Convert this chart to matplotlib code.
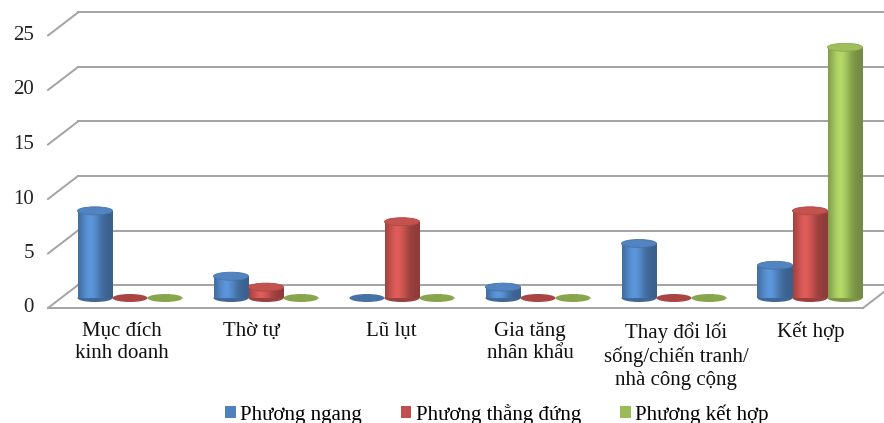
import numpy as np
import matplotlib
matplotlib.use("Agg")
import matplotlib.pyplot as plt
from matplotlib.patches import Ellipse, Patch
from matplotlib.colors import to_rgb

# ---------------- data ----------------
categories = ["Mục đích\nkinh doanh", "Thờ tự", "Lũ lụt", "Gia tăng\nnhân khẩu",
              "Thay đổi lối\nsống/chiến tranh/\nnhà công cộng", "Kết hợp"]
series_names = ["Phương ngang", "Phương thẳng đứng", "Phương kết hợp"]
phuong_ngang = [8, 2, 0, 1, 5, 3]
phuong_thang_dung = [0, 1, 7, 0, 0, 8]
phuong_ket_hop = [0, 0, 0, 0, 0, 23]
y_ticks = [0, 5, 10, 15, 20, 25]

colors = ["#4F81BD", "#C0504D", "#9BBB59"]

plt.rcParams['font.family'] = ['Liberation Serif', 'DejaVu Serif']

W, H = 884, 423
fig = plt.figure(figsize=(W / 100, H / 100), dpi=100)
ax = fig.add_axes([0, 0, 1, 1])
ax.set_axis_off()

# pixel layout helpers (layout only)
px_unit_y = 10.9          # pixels per value unit
base_px = 298             # pixel row of bar bases
grp0_px, grp_px = 130, 136
xlim = (-grp0_px / grp_px, (W - grp0_px) / grp_px)
ylim = (-(H - base_px) / px_unit_y, base_px / px_unit_y)

back_dy = 13 / px_unit_y
front_dy = -10 / px_unit_y
x_back_left = (78 - grp0_px) / grp_px
x_front_left = (48 - grp0_px) / grp_px
x_front_right = (863 - grp0_px) / grp_px
x_back_right = (893 - grp0_px) / grp_px

gcol = "#a3a3a3"
for v in y_ticks:
    ax.plot([x_back_left, xlim[1] + 0.2], [v + back_dy, v + back_dy], color=gcol, lw=1.4, zorder=1)
    ax.plot([x_front_left, x_back_left], [v + front_dy, v + back_dy], color=gcol, lw=1.4, zorder=1)
    ax.text((34 - grp0_px) / grp_px, v + front_dy, str(v), ha='right', va='center',
            fontsize=15, color='#222222')
# floor front edge
ax.plot([x_front_left, x_front_right], [front_dy, front_dy], color=gcol, lw=1.4, zorder=1)
ax.plot([x_front_right, x_back_right], [front_dy, back_dy], color=gcol, lw=1.4, zorder=1)

# ---------------- cylinders ----------------
bw = 35 / grp_px
ell_h = 8 / px_unit_y
x = np.arange(len(categories))
all_series = [phuong_ngang, phuong_thang_dung, phuong_ket_hop]
offsets = [-bw, 0, bw]

def shade(c, f):
    r = np.array(to_rgb(c)) * f
    return tuple(np.clip(r, 0, 1))

t = np.linspace(0, 1, 64)
prof = 0.74 + 0.42 * np.exp(-((t - 0.35) / 0.3) ** 2)

z = 3
for i in range(len(categories)):
    for s, (vals, off, col) in enumerate(zip(all_series, offsets, colors)):
        v = vals[i]
        xc = x[i] + off
        if v == 0:
            ax.add_patch(Ellipse((xc, 0), bw, ell_h, facecolor=shade(col, 0.88),
                                 edgecolor='none', zorder=z))
            z += 1
            continue
        ax.add_patch(Ellipse((xc, 0), bw, ell_h, facecolor=shade(col, 0.8),
                             edgecolor='none', zorder=z))
        bars = ax.bar([xc], [v], width=bw, color=col, zorder=z + 1, linewidth=0)
        rect = bars.patches[0]
        base = np.array(to_rgb(col))
        img = np.clip(base[None, :] * prof[:, None], 0, 1)[None, :, :]
        im = ax.imshow(img, extent=[xc - bw / 2, xc + bw / 2, 0, v], aspect='auto',
                       zorder=z + 1.5, interpolation='bilinear')
        im.set_clip_path(rect)
        ax.add_patch(Ellipse((xc, v), bw, ell_h, facecolor=shade(col, 1.02),
                             edgecolor=shade(col, 0.9), lw=0.6, zorder=z + 2))
        z += 3

ax.set_xlim(*xlim)
ax.set_ylim(*ylim)

# category labels
label_dx = [-8, -15, -11, -8, 2, 1]
label_top = -(322 - base_px) / px_unit_y
for i, c in enumerate(categories):
    ax.text(x[i] + label_dx[i] / grp_px, label_top, c,
            ha='center', va='top', fontsize=15, color='#111111', linespacing=1.25)

handles = [Patch(facecolor=c, edgecolor='none') for c in colors]
fig.legend(handles, series_names, loc='lower center', bbox_to_anchor=(0.562, -0.048),
           ncol=3, frameon=False, fontsize=15, handlelength=0.5, handleheight=0.5,
           handletextpad=0.2, columnspacing=1.9)

fig.savefig("out.png", dpi=100)
